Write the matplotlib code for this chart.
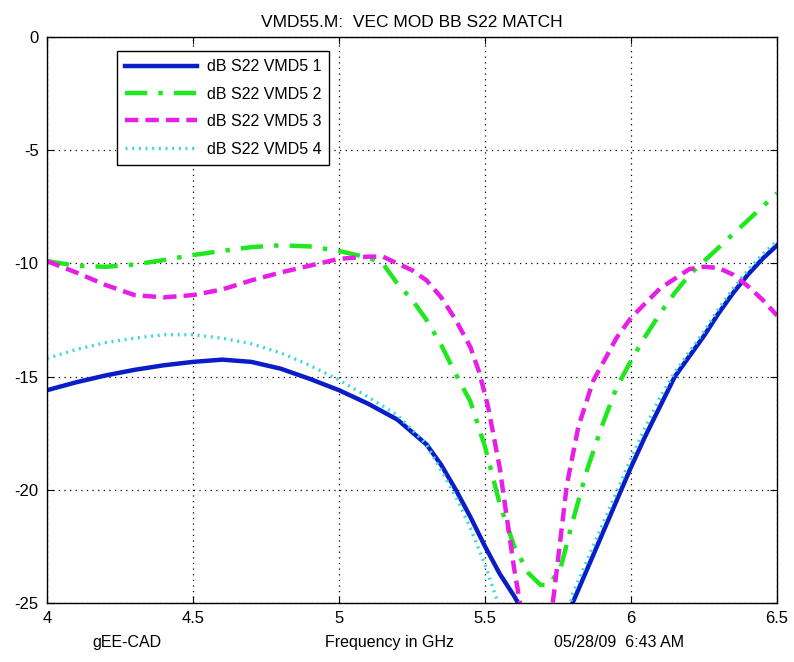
import matplotlib
matplotlib.use("Agg")
import matplotlib.pyplot as plt

plt.rcParams["font.family"] = ["Liberation Sans", "DejaVu Sans"]
plt.rcParams["axes.unicode_minus"] = False

# dB S22 VMD5 1 (blue solid)
f1 = [4.0, 4.1, 4.2, 4.3, 4.4, 4.5, 4.6, 4.7, 4.8, 4.9, 5.0, 5.1, 5.2, 5.3, 5.35, 5.4, 5.45,
      5.5, 5.55, 5.6, 5.65, 5.7, 5.75, 5.8, 5.85, 5.9, 5.95, 6.0, 6.05, 6.1, 6.15, 6.2, 6.25,
      6.3, 6.35, 6.4, 6.45, 6.5]
s1 = [-15.6, -15.25, -14.95, -14.7, -14.5, -14.35, -14.25, -14.35, -14.65, -15.1, -15.6, -16.2,
      -16.9, -18.0, -18.9, -20.0, -21.2, -22.5, -23.7, -24.7, -25.8, -26.5, -26.0, -25.0, -23.5,
      -22.0, -20.5, -19.0, -17.6, -16.3, -15.0, -14.1, -13.2, -12.2, -11.3, -10.5, -9.8, -9.2]

# dB S22 VMD5 2 (green dash-dot)
f2 = [4.0, 4.1, 4.2, 4.3, 4.4, 4.5, 4.6, 4.7, 4.8, 4.9, 5.0, 5.1, 5.15, 5.2, 5.25, 5.3, 5.35,
      5.4, 5.45, 5.5, 5.55, 5.6, 5.65, 5.69, 5.72, 5.76, 5.8, 5.85, 5.9, 5.95, 6.0, 6.05, 6.1,
      6.15, 6.2, 6.3, 6.4, 6.5]
s2 = [-9.9, -10.1, -10.15, -10.05, -9.85, -9.63, -9.45, -9.28, -9.2, -9.25, -9.45, -9.75, -10.0,
      -10.9, -11.6, -12.5, -13.6, -14.9, -16.1, -18.1, -20.6, -22.5, -23.7, -24.2, -24.2, -23.4,
      -21.4, -19.1, -17.2, -15.5, -14.3, -13.2, -12.2, -11.3, -10.5, -9.3, -8.1, -6.9]

# dB S22 VMD5 3 (magenta dashed)
f3 = [4.0, 4.1, 4.2, 4.3, 4.4, 4.5, 4.6, 4.7, 4.8, 4.9, 5.0, 5.1, 5.15, 5.2, 5.25, 5.3, 5.35,
      5.4, 5.45, 5.48, 5.51, 5.55, 5.6, 5.62, 5.65, 5.68, 5.71, 5.735, 5.76, 5.78, 5.82, 5.87,
      5.95, 6.0, 6.1, 6.2, 6.25, 6.3, 6.35, 6.4, 6.45, 6.5]
s3 = [-9.9, -10.4, -10.95, -11.4, -11.5, -11.4, -11.15, -10.75, -10.4, -10.1, -9.8, -9.7, -9.7,
      -10.0, -10.3, -10.75, -11.5, -12.5, -13.7, -14.8, -16.3, -19.0, -23.5, -25.0, -27.5, -28.5,
      -27.0, -24.7, -22.0, -19.8, -17.2, -15.2, -13.3, -12.4, -11.1, -10.25, -10.15, -10.2, -10.5,
      -11.0, -11.6, -12.3]

# dB S22 VMD5 4 (cyan dotted)
f4 = [4.0, 4.1, 4.2, 4.3, 4.4, 4.5, 4.6, 4.7, 4.8, 4.9, 5.0, 5.1, 5.2, 5.3, 5.4, 5.45, 5.5,
      5.55, 5.6, 5.7, 5.78, 5.8, 5.85, 5.9, 5.95, 6.0, 6.05, 6.1, 6.15, 6.2, 6.25, 6.3, 6.35,
      6.4, 6.45, 6.5]
s4 = [-14.2, -13.8, -13.5, -13.3, -13.15, -13.15, -13.3, -13.55, -13.95, -14.5, -15.15, -15.9,
      -16.7, -18.0, -20.3, -21.7, -23.3, -25.2, -26.5, -27.5, -25.8, -24.6, -23.1, -21.6, -20.1,
      -18.6, -17.2, -15.9, -14.8, -13.9, -13.0, -12.0, -11.1, -10.3, -9.6, -9.0]

xticks = [4, 4.5, 5, 5.5, 6, 6.5]
xtick_labels = ["4", "4.5", "5", "5.5", "6", "6.5"]
yticks = [-25, -20, -15, -10, -5, 0]

fig = plt.figure(figsize=(7.94, 6.62), dpi=100)
ax = fig.add_axes([0.0592, 0.0891, 0.9194, 0.855])

ax.plot(f1, s1, "-", color="#0a1ec8", lw=3.2, label="dB S22 VMD5 1")
ax.plot(f2, s2, "-.", color="#1fe81f", lw=3.2, label="dB S22 VMD5 2", dashes=(5, 2.5, 1, 2.5))
ax.plot(f3, s3, "--", color="#e61ee6", lw=3.2, label="dB S22 VMD5 3", dashes=(3, 1.6))
ax.plot(f4, s4, ":", color="#3ad8e0", lw=2.4, label="dB S22 VMD5 4", dashes=(0.6, 1.4))

ax.set_xlim(4, 6.5)
ax.set_ylim(-25, 0)
ax.set_xticks(xticks)
ax.set_xticklabels(xtick_labels)
ax.set_yticks(yticks)
ax.grid(True, color="black", linestyle=(0, (1, 3.5)), linewidth=0.9)
ax.tick_params(direction="in", top=True, right=True, length=5, labelsize=12, pad=6)
for sp in ax.spines.values():
    sp.set_linewidth(1.0)

ax.set_title("VMD55.M:  VEC MOD BB S22 MATCH", fontsize=12.5, pad=7)

leg = ax.legend(loc="upper left", bbox_to_anchor=(0.096, 0.975), fontsize=11.5,
                frameon=True, fancybox=False, edgecolor="black", framealpha=1,
                handlelength=4.5, borderpad=0.5, labelspacing=0.78, handletextpad=0.6,
                borderaxespad=0)
leg.get_frame().set_linewidth(1.0)

fig.text(0.16, 0.022, "gEE-CAD", ha="center", fontsize=11.5)
fig.text(0.49, 0.022, "Frequency in GHz", ha="center", fontsize=11.5)
fig.text(0.78, 0.022, "05/28/09  6:43 AM", ha="center", fontsize=11.5)

fig.savefig("out.png", dpi=100)
